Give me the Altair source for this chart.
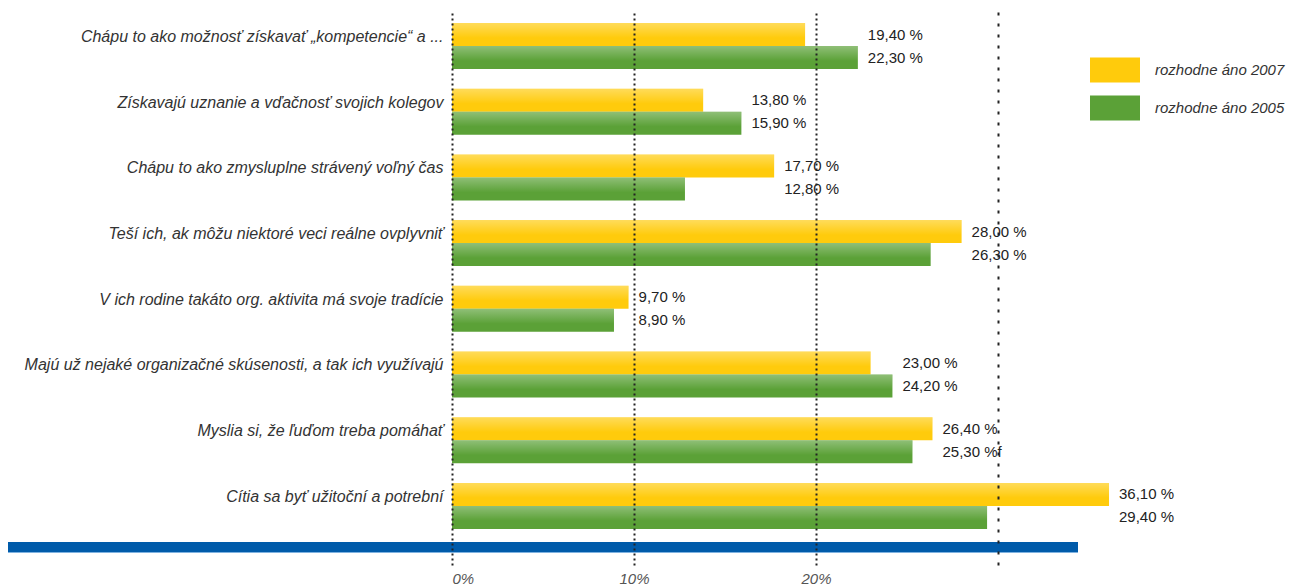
import altair as alt
import pandas as pd

categories = [
    "Chápu to ako možnosť získavať \u201ekompetencie\u201c a ...",
    "Získavajú uznanie a vďačnosť svojich kolegov",
    "Chápu to ako zmysluplne strávený voľný čas",
    "Teší ich, ak môžu niektoré veci reálne ovplyvniť",
    "V ich rodine takáto org. aktivita má svoje tradície",
    "Majú už nejaké organizačné skúsenosti, a tak ich využívajú",
    "Myslia si, že ľuďom treba pomáhať",
    "Cítia sa byť užitoční a potrební",
]
series = ["rozhodne áno 2007", "rozhodne áno 2005"]
values_2007 = [19.4, 13.8, 17.7, 28.0, 9.7, 23.0, 26.4, 36.1]
values_2005 = [22.3, 15.9, 12.8, 26.3, 8.9, 24.2, 25.3, 29.4]
labels_2007 = ["19,40 %", "13,80 %", "17,70 %", "28,00 %", "9,70 %", "23,00 %", "26,40 %", "36,10 %"]
labels_2005 = ["22,30 %", "15,90 %", "12,80 %", "26,30 %", "8,90 %", "24,20 %", "25,30 %f", "29,40 %"]
x_ticks = [0, 10, 20, 30]

rows = []
for c, v, l in zip(categories, values_2007, labels_2007):
    rows.append({"cat": c, "series": series[0], "value": v, "label": l})
for c, v, l in zip(categories, values_2005, labels_2005):
    rows.append({"cat": c, "series": series[1], "value": v, "label": l})
df = pd.DataFrame(rows)

FONT = "Liberation Sans"

x_enc = alt.X(
    "value:Q",
    scale=alt.Scale(domain=[0, 40]),
    axis=alt.Axis(
        values=x_ticks, labelExpr="datum.value < 30 ? datum.value + '%' : ''",
        grid=True,
        gridDash={"condition": {"test": "datum.value === 30", "value": [3, 8]}, "value": [2, 3]},
        gridColor="#222222", gridWidth=2,
        domain=False, ticks=False, labelPadding=6, labelFontStyle="italic",
        labelColor="#555555", labelFontSize=15, labelFont=FONT, title=None, zindex=1,
    ),
)
y_enc = alt.Y(
    "cat:N", sort=categories,
    scale=alt.Scale(paddingInner=0.3, paddingOuter=0.374, align=0.265),
    axis=alt.Axis(
        title=None, domain=False, ticks=False, labelPadding=9, labelLimit=600,
        labelFontSize=16, labelFontStyle="italic", labelColor="#333333",
        labelFont=FONT, labelOffset=-9, grid=False,
    ),
)
yoff_enc = alt.YOffset("series:N", sort=series, scale=alt.Scale(paddingInner=0, paddingOuter=0))

base = alt.Chart(df)

bars = base.mark_bar(cornerRadius=0).encode(
    x=x_enc, y=y_enc, yOffset=yoff_enc,
    color=alt.Color(
        "series:N", sort=series,
        scale=alt.Scale(domain=series, range=["#FFCB0C", "#5BA137"]),
        legend=alt.Legend(
            title=None, orient="none", legendX=638, legendY=35,
            symbolType="M-1,-0.5H1V0.5H-1Z", symbolSize=2500, symbolStrokeWidth=0,
            labelFontSize=15, labelFontStyle="italic", labelColor="#333333",
            labelFont=FONT, labelOffset=15, rowPadding=-5, labelLimit=300,
        ),
    ),
)

shine = base.mark_bar(
    color=alt.Gradient(
        gradient="linear",
        stops=[
            alt.GradientStop(color="rgba(255,255,255,0.32)", offset=0),
            alt.GradientStop(color="rgba(255,255,255,0.0)", offset=0.65),
        ],
        x1=0, x2=0, y1=0, y2=1,
    )
).encode(x="value:Q", y=alt.Y("cat:N", sort=categories), yOffset=alt.YOffset("series:N", sort=series))

texts = base.transform_joinaggregate(
    maxv="max(value)", groupby=["cat"]
).mark_text(align="left", baseline="middle", dx=10, fontSize=15, color="#222222", font=FONT).encode(
    x="maxv:Q", y=alt.Y("cat:N", sort=categories), yOffset=alt.YOffset("series:N", sort=series),
    text="label:N",
)

dummy = alt.Chart(pd.DataFrame({"a": [0]}))
band = dummy.mark_rule(color="#005BAA", strokeWidth=10).encode(
    x=alt.value(-444), x2=alt.value(626), y=alt.value(537)
)
band_line = dummy.mark_rule(color="#7FB2E0", strokeWidth=1).encode(
    x=alt.value(-444), x2=alt.value(626), y=alt.value(542.5)
)

chart = alt.layer(bars, shine, texts, band, band_line).properties(
    width=728, height=555,
    autosize=alt.AutoSizeParams(type="none"),
    padding={"left": 444, "top": 2, "right": 110, "bottom": 23},
).configure(font=FONT, background="white").configure_view(stroke=None)

chart.save("out.html", embed_options={"renderer": "svg", "actions": False})
